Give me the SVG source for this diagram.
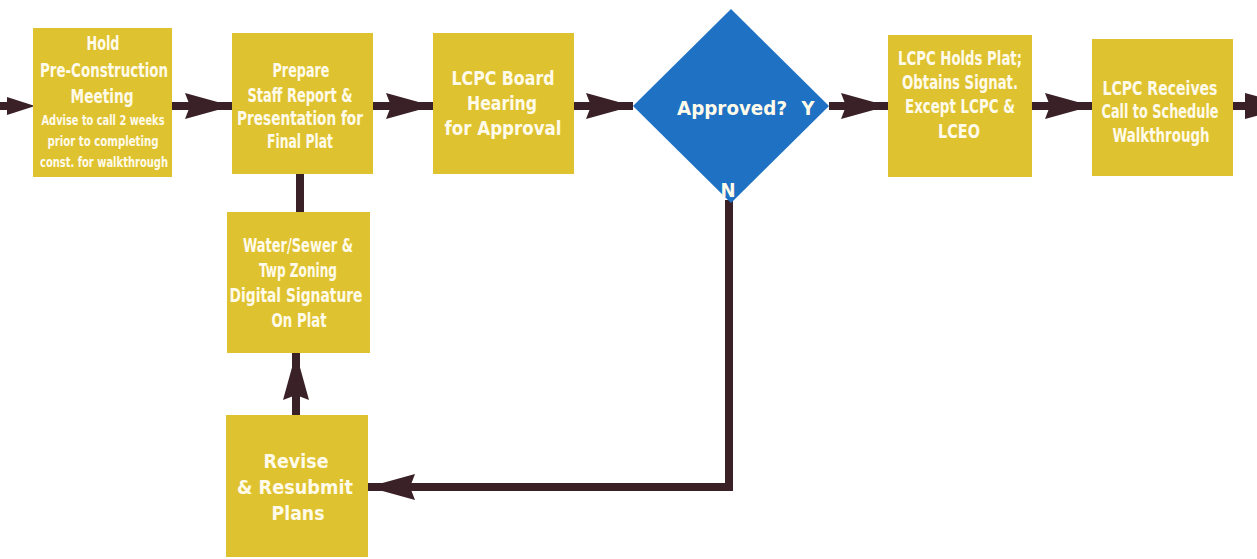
<svg xmlns="http://www.w3.org/2000/svg" width="1257" height="559" viewBox="0 0 1257 559">
<defs>
<style>
.box{fill:#dfc230;}
.dia{fill:#1f71c3;}
.t{font-family:"Liberation Sans Narrow","DejaVu Sans Condensed","Liberation Sans",sans-serif;font-weight:bold;fill:#fffbea;text-anchor:middle;font-size:20px;}
.s{font-size:13.5px;}
.ln{stroke:#3a2128;fill:none;stroke-width:8;}
.hd{fill:#3a2128;}
</style>
<marker id="ah" markerUnits="userSpaceOnUse" markerWidth="48" markerHeight="26" refX="47" refY="13" orient="auto" viewBox="0 0 48 26">
<path d="M0,0 L47,13 L0,26 L5,13 z" fill="#3a2128"/>
</marker>
</defs>
<rect width="1257" height="559" fill="#ffffff"/>

<g id="connectors">
<polygon class="hd" points="7,97 35,106 7,115"/>
<line class="ln" x1="0" y1="106" x2="10" y2="106" stroke-width="6"/>
<line class="ln" x1="172" y1="106" x2="232" y2="106" marker-end="url(#ah)"/>
<line class="ln" x1="373" y1="106" x2="433" y2="106" marker-end="url(#ah)"/>
<line class="ln" x1="574" y1="106" x2="633" y2="106" marker-end="url(#ah)"/>
<line class="ln" x1="829" y1="106" x2="888" y2="106" marker-end="url(#ah)"/>
<line class="ln" x1="1032" y1="106" x2="1092" y2="106" marker-end="url(#ah)"/>
<line class="ln" x1="1233" y1="106" x2="1250" y2="106"/>
<polygon class="hd" points="1245,93 1292,106 1245,119"/>
<line class="ln" x1="300" y1="174" x2="300" y2="212" stroke-width="7"/>
<line class="ln" x1="296" y1="415" x2="296" y2="353" stroke-width="7" marker-end="url(#ah)"/>
<polyline class="ln" points="729,200 729,487 368,487" stroke-width="6" marker-end="url(#ah)"/>
</g>

<g id="n1">
<rect class="box" x="33" y="28" width="139" height="149"/>
<text class="t" x="103" y="50" textLength="33" lengthAdjust="spacingAndGlyphs">Hold</text>
<text class="t" x="104" y="77" textLength="128" lengthAdjust="spacingAndGlyphs">Pre-Construction</text>
<text class="t" x="102" y="103" textLength="63" lengthAdjust="spacingAndGlyphs">Meeting</text>
<text class="t s" x="103" y="125" textLength="123" lengthAdjust="spacingAndGlyphs">Advise to call 2 weeks</text>
<text class="t s" x="103" y="146" textLength="111" lengthAdjust="spacingAndGlyphs">prior to completing</text>
<text class="t s" x="104" y="167" textLength="128" lengthAdjust="spacingAndGlyphs">const. for walkthrough</text>
</g>

<g id="n2">
<rect class="box" x="232" y="33" width="141" height="141"/>
<text class="t" x="301" y="77" textLength="57" lengthAdjust="spacingAndGlyphs">Prepare</text>
<text class="t" x="300" y="102" textLength="105" lengthAdjust="spacingAndGlyphs">Staff Report &amp;</text>
<text class="t" x="300" y="125" textLength="126" lengthAdjust="spacingAndGlyphs">Presentation for</text>
<text class="t" x="300" y="148" textLength="66" lengthAdjust="spacingAndGlyphs">Final Plat</text>
</g>

<g id="n3">
<rect class="box" x="433" y="33" width="141" height="141"/>
<text class="t" x="503" y="85" textLength="103" lengthAdjust="spacingAndGlyphs">LCPC Board</text>
<text class="t" x="502" y="110" textLength="70" lengthAdjust="spacingAndGlyphs">Hearing</text>
<text class="t" x="503" y="135" textLength="117" lengthAdjust="spacingAndGlyphs">for Approval</text>
</g>

<g id="n4">
<polygon class="dia" points="731,9 829,106 731,203 633,106"/>
<text class="t" x="732" y="115" textLength="110" lengthAdjust="spacingAndGlyphs">Approved?</text>
<text class="t" x="808" y="115">Y</text>
<text class="t" x="728" y="197" font-size="18">N</text>
</g>

<g id="n5">
<rect class="box" x="888" y="35" width="144" height="142"/>
<text class="t" x="960" y="65" textLength="124" lengthAdjust="spacingAndGlyphs">LCPC Holds Plat;</text>
<text class="t" x="960" y="89" textLength="116" lengthAdjust="spacingAndGlyphs">Obtains Signat.</text>
<text class="t" x="960" y="113" textLength="110" lengthAdjust="spacingAndGlyphs">Except LCPC &amp;</text>
<text class="t" x="959" y="138" textLength="42" lengthAdjust="spacingAndGlyphs">LCEO</text>
</g>

<g id="n6">
<rect class="box" x="1092" y="39" width="141" height="137"/>
<text class="t" x="1160" y="95" textLength="115" lengthAdjust="spacingAndGlyphs">LCPC Receives</text>
<text class="t" x="1160" y="118" textLength="117" lengthAdjust="spacingAndGlyphs">Call to Schedule</text>
<text class="t" x="1161" y="142" textLength="97" lengthAdjust="spacingAndGlyphs">Walkthrough</text>
</g>

<g id="n7">
<rect class="box" x="227" y="212" width="143" height="141"/>
<text class="t" x="298" y="252" textLength="110" lengthAdjust="spacingAndGlyphs">Water/Sewer &amp;</text>
<text class="t" x="298" y="277" textLength="78" lengthAdjust="spacingAndGlyphs">Twp Zoning</text>
<text class="t" x="296" y="302" textLength="133" lengthAdjust="spacingAndGlyphs">Digital Signature</text>
<text class="t" x="299" y="327" textLength="55" lengthAdjust="spacingAndGlyphs">On Plat</text>
</g>

<g id="n8">
<rect class="box" x="226" y="415" width="142" height="142"/>
<text class="t" x="296" y="468" textLength="65" lengthAdjust="spacingAndGlyphs">Revise</text>
<text class="t" x="295" y="494" textLength="116" lengthAdjust="spacingAndGlyphs">&amp; Resubmit</text>
<text class="t" x="298" y="520" textLength="53" lengthAdjust="spacingAndGlyphs">Plans</text>
</g>
</svg>
